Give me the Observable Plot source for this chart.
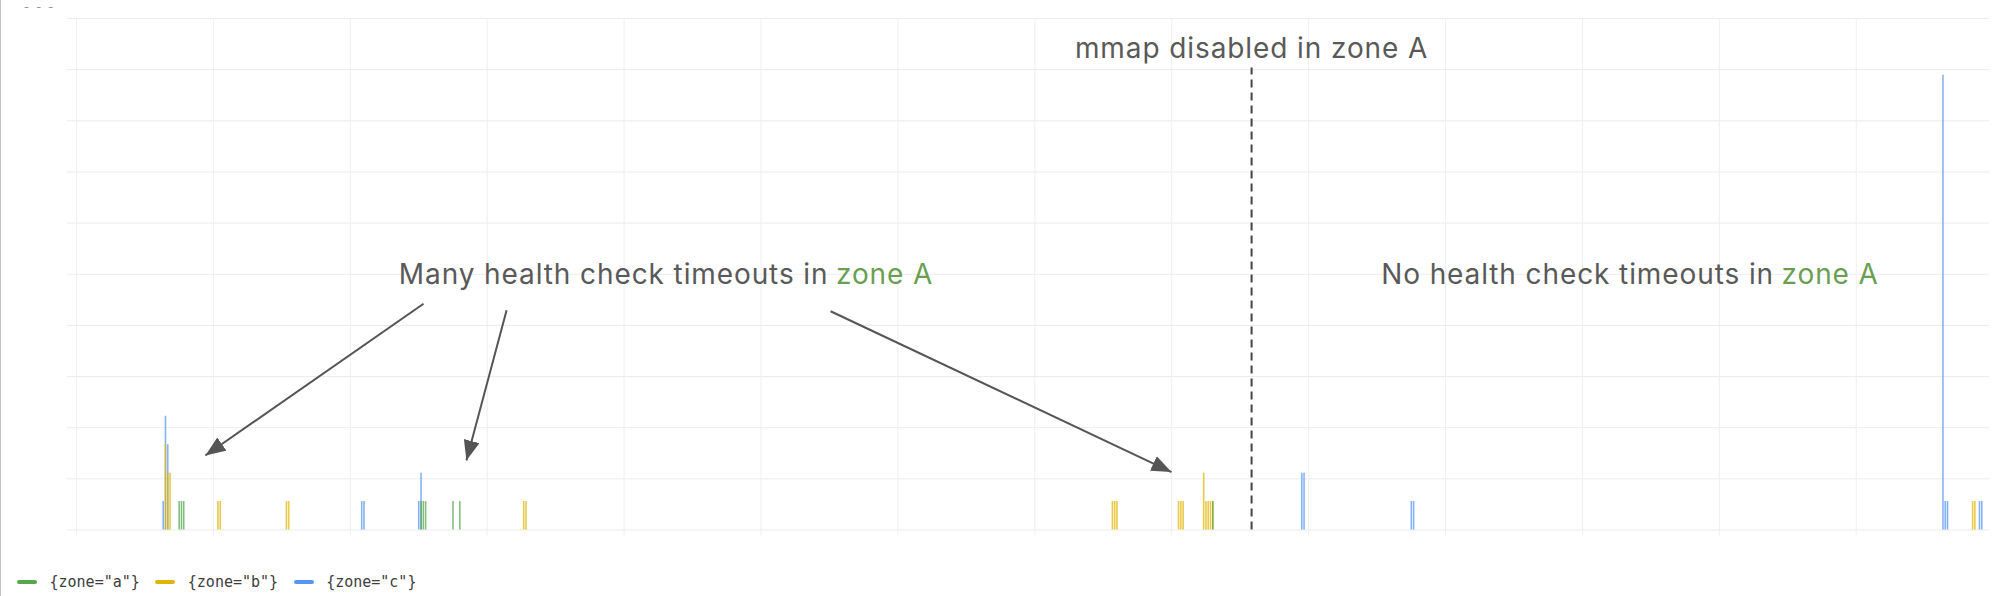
<!DOCTYPE html>
<html><head><meta charset="utf-8">
<script src="https://cdn.jsdelivr.net/npm/d3@7"></script>
<script src="https://cdn.jsdelivr.net/npm/@observablehq/plot@0.6"></script>
<style>
html,body{margin:0;padding:0;background:#fff;width:1999px;height:596px;overflow:hidden;font-family:Inter, sans-serif;}
#border{position:absolute;left:0;top:0;width:1px;height:596px;background:#c4c4c4;}
#title{position:absolute;left:24px;top:0px;font-size:11px;color:#8e8e8e;letter-spacing:2px;}
#chart{position:absolute;left:0;top:0;}
#legend{position:absolute;left:17px;top:571px;height:22px;display:flex;align-items:center;font-size:15px;color:#3d3d3d;font-family:"DejaVu Sans Mono", monospace;}
.item{display:flex;align-items:center;margin-right:15.5px;}
.sw{width:20px;height:4px;border-radius:2px;margin-right:12.5px;}
</style></head><body>
<div id="chart"></div>
<div id="border"></div>
<div id="title">- - -</div>
<div id="legend"></div>
<script>
// ---- series ----
const seriesNames = ['{zone="a"}', '{zone="b"}', '{zone="c"}'];
const seriesColors = ["#56A64B", "#E0B400", "#5794F2"];

// time in minutes from first grid line, value = rate per second
const zoneAMinutes = [45, 46, 47, 151, 152, 153, 165, 168, 498];
const zoneARates   = [0.0167, 0.0167, 0.0167, 0.0167, 0.0167, 0.0167, 0.0167, 0.0167, 0.0167];

const zoneBMinutes = [39, 40, 41, 62, 63, 92, 93, 196, 197, 454, 455, 456, 483, 484, 485, 494, 495, 496, 497, 498, 831, 832];
const zoneBRates   = [0.05, 0.0333, 0.0333, 0.0167, 0.0167, 0.0167, 0.0167, 0.0167, 0.0167, 0.0167, 0.0167, 0.0167, 0.0167, 0.0167, 0.0167, 0.0333, 0.0167, 0.0167, 0.0167, 0.0167, 0.0167, 0.0167];

const zoneCMinutes = [38, 39, 40, 125, 126, 150, 151, 537, 538, 585, 586, 818, 819, 820, 834, 835];
const zoneCRates   = [0.0167, 0.0667, 0.05, 0.0167, 0.0167, 0.0167, 0.0333, 0.0333, 0.0333, 0.0167, 0.0167, 0.2667, 0.0167, 0.0167, 0.0167, 0.0167];

// ---- axes ----
const xDomain = [-3.94, 838.4];
const xTicks = [0, 60, 120, 180, 240, 300, 360, 420, 480, 540, 600, 660, 720, 780];
const yDomain = [0, 0.3];
const yTicks = [0, 0.03, 0.06, 0.09, 0.12, 0.15, 0.18, 0.21, 0.24, 0.27, 0.3];

// ---- annotations ----
const markerMinute = [515];
const markerTop = 0.271;
const markerLabel = ["mmap disabled in zone A"];
const markerLabelY = 0.2819;

const noteSplitMinutes = [331.1, 745.5];
const noteY = [0.1494, 0.1494];
const noteTexts = ["Many health check timeouts in", "No health check timeouts in"];
const noteHighlight = ["zone A", "zone A"];

const arrowStartMinutes = [152.1, 188.5, 330.5];
const arrowStartY = [0.1327, 0.1289, 0.1283];
const arrowEndMinutes = [56.5, 170.9, 479.9];
const arrowEndY = [0.0437, 0.0408, 0.0340];

// ---- build tables ----
const rows = [];
zoneCMinutes.forEach((m, i) => rows.push({minute: m, rate: zoneCRates[i], zone: seriesNames[2]}));
zoneBMinutes.forEach((m, i) => rows.push({minute: m, rate: zoneBRates[i], zone: seriesNames[1]}));
zoneAMinutes.forEach((m, i) => rows.push({minute: m, rate: zoneARates[i], zone: seriesNames[0]}));

const notes = noteTexts.map((t, i) => ({x: noteSplitMinutes[i], y: noteY[i], text: t, hl: noteHighlight[i]}));
const arrows = arrowStartMinutes.map((m, i) => ({x1: m, y1: arrowStartY[i], x2: arrowEndMinutes[i], y2: arrowEndY[i]}));

const textColor = "#595959";
const fontSize = 28;

const plot = Plot.plot({
  width: 1999,
  height: 560,
  marginLeft: 67,
  marginRight: 10,
  marginTop: 18,
  marginBottom: 30.5,
  style: {fontFamily: "Inter, sans-serif", background: "transparent", letterSpacing: "0.9px"},
  x: {domain: xDomain, axis: null},
  y: {domain: yDomain, axis: null},
  color: {domain: seriesNames, range: seriesColors},
  marks: [
    Plot.ruleY(yTicks, {stroke: "#ececec", strokeWidth: 1}),
    Plot.ruleX(xTicks, {stroke: "#efefef", strokeWidth: 1, insetBottom: -6}),
    Plot.ruleX(rows, {x: "minute", y1: 0, y2: "rate", stroke: "zone", strokeWidth: 1.6, strokeOpacity: 0.72}),
    Plot.ruleX(markerMinute, {y1: 0, y2: markerTop, stroke: "#444", strokeWidth: 2, strokeDasharray: "8,5"}),
    Plot.text(markerLabel, {x: markerMinute[0], y: markerLabelY, text: d => d, fill: textColor, fontSize, textAnchor: "middle"}),
    Plot.text(notes, {x: "x", y: "y", text: "text", fill: textColor, fontSize, textAnchor: "end", dx: -3.5}),
    Plot.text(notes, {x: "x", y: "y", text: "hl", fill: "#6a9f52", fontSize, textAnchor: "start", dx: 4}),
    Plot.link(arrows, {x1: "x1", y1: "y1", x2: "x2", y2: "y2", stroke: "#555", strokeWidth: 2})
  ]
});
document.getElementById("chart").appendChild(plot);

// filled arrowheads for the link mark
const svg = d3.select(plot);
const defs = svg.insert("defs", ":first-child");
defs.append("marker")
  .attr("id", "ahead").attr("viewBox", "-20 -8 20 16")
  .attr("markerUnits", "userSpaceOnUse").attr("markerWidth", 20).attr("markerHeight", 16)
  .attr("refX", 0).attr("refY", 0).attr("orient", "auto")
  .append("path").attr("d", "M-20,-8L0,0L-20,8Z").attr("fill", "#555");
svg.selectAll('g[aria-label="link"] path').attr("marker-end", "url(#ahead)");

// legend
const legend = d3.select("#legend");
seriesNames.forEach((n, i) => {
  const it = legend.append("div").attr("class", "item");
  it.append("div").attr("class", "sw").style("background", seriesColors[i]);
  it.append("span").text(n);
});
</script>
</body></html>
